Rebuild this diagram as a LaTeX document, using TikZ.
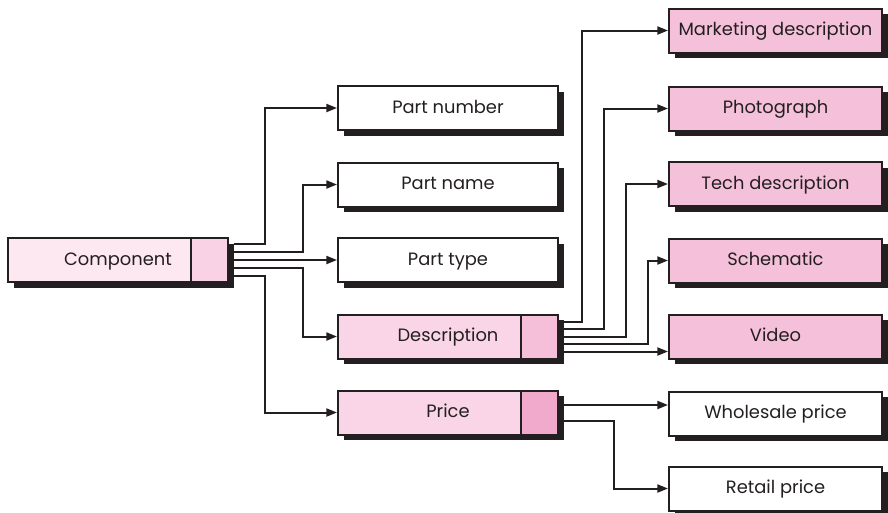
\documentclass[tikz,border=0pt]{standalone}
\usepackage{fontspec}
\setmainfont{Poppins}
\usetikzlibrary{arrows.meta,shadows,calc}
\definecolor{compL}{HTML}{FDE7F1}
\definecolor{compR}{HTML}{F9D2E5}
\definecolor{descL}{HTML}{F9D5E7}
\definecolor{descR}{HTML}{F5BFD9}
\definecolor{priceR}{HTML}{F1A9CC}
\definecolor{rpink}{HTML}{F5C0DA}
\definecolor{ink}{HTML}{231F20}
\begin{document}
\begin{tikzpicture}[x=0.75pt,y=-0.75pt,
  box/.style={draw=ink, line width=1.5pt, minimum height=44*0.75pt, inner sep=0pt,
    font=\fontsize{13.4}{15}\selectfont, text=ink, text height=0.82em, text depth=0.06em,
    drop shadow={shadow xshift=4.2pt, shadow yshift=-4.2pt, opacity=1, fill=ink}},
  wide/.style={box, minimum width=220*0.75pt},
  narrow/.style={box, minimum width=213*0.75pt},
  part/.style={draw=ink, line width=1.5pt, minimum width=37*0.75pt, minimum height=44*0.75pt, inner sep=0pt},
  arr/.style={draw=ink, line width=1.5pt, -{Triangle[length=8pt,width=6pt]}}]
\useasboundingbox (0,0) rectangle (888,512);
% left column
\node[wide, fill=compL] (comp) at (118,260) {Component};
\node[part, fill=compR, anchor=north east] (compR) at (comp.north east) {};
% middle column
\node[wide, fill=white] (pnum) at (448,108) {Part number};
\node[wide, fill=white] (pname) at (448,184.5) {Part name};
\node[wide, fill=white] (ptype) at (448,260) {Part type};
\node[wide, fill=descL] (desc) at (448,336.5) {Description};
\node[part, fill=descR, anchor=north east] (descR) at (desc.north east) {};
\node[wide, fill=descL] (price) at (448,412.5) {Price};
\node[part, fill=priceR, anchor=north east] (priceR) at (price.north east) {};
% right column
\node[narrow, fill=rpink] (mkt) at (775.5,30.5) {Marketing description};
\node[narrow, fill=rpink] (photo) at (775.5,108.5) {Photograph};
\node[narrow, fill=rpink] (tech) at (775.5,184) {Tech description};
\node[narrow, fill=rpink] (schem) at (775.5,260.5) {Schematic};
\node[narrow, fill=rpink] (video) at (775.5,336.5) {Video};
\node[narrow, fill=white] (whole) at (775.5,413.5) {Wholesale price};
\node[narrow, fill=white] (retail) at (775.5,488.5) {Retail price};
% connectors from Component
\draw[arr] ([shift={(5,-16)}]comp.east) -- ++(31,0) |- (pnum.west);
\draw[arr] ([shift={(5,-8)}]comp.east) -- ++(69,0) |- (pname.west);
\draw[arr] ([shift={(5,0)}]comp.east) -- (ptype.west);
\draw[arr] ([shift={(5,8)}]comp.east) -- ++(69,0) |- (desc.west);
\draw[arr] ([shift={(5,16)}]comp.east) -- ++(31,0) |- (price.west);
% connectors from Description
\draw[arr] ([shift={(5,-15)}]desc.east) -- ++(18,0) |- (mkt.west);
\draw[arr] ([shift={(5,-7.5)}]desc.east) -- ++(40,0) |- (photo.west);
\draw[arr] ([shift={(5,0)}]desc.east) -- ++(62,0) |- (tech.west);
\draw[arr] ([shift={(5,7.5)}]desc.east) -- ++(84,0) |- (schem.west);
\draw[arr] ([shift={(5,15)}]desc.east) coordinate (d5) -- (d5 -| video.west);
% connectors from Price
\draw[arr] ([shift={(5,-7.5)}]price.east) coordinate (p1) -- (p1 -| whole.west);
\draw[arr] ([shift={(5,8.5)}]price.east) -- ++(50,0) |- (retail.west);
\end{tikzpicture}
\end{document}
